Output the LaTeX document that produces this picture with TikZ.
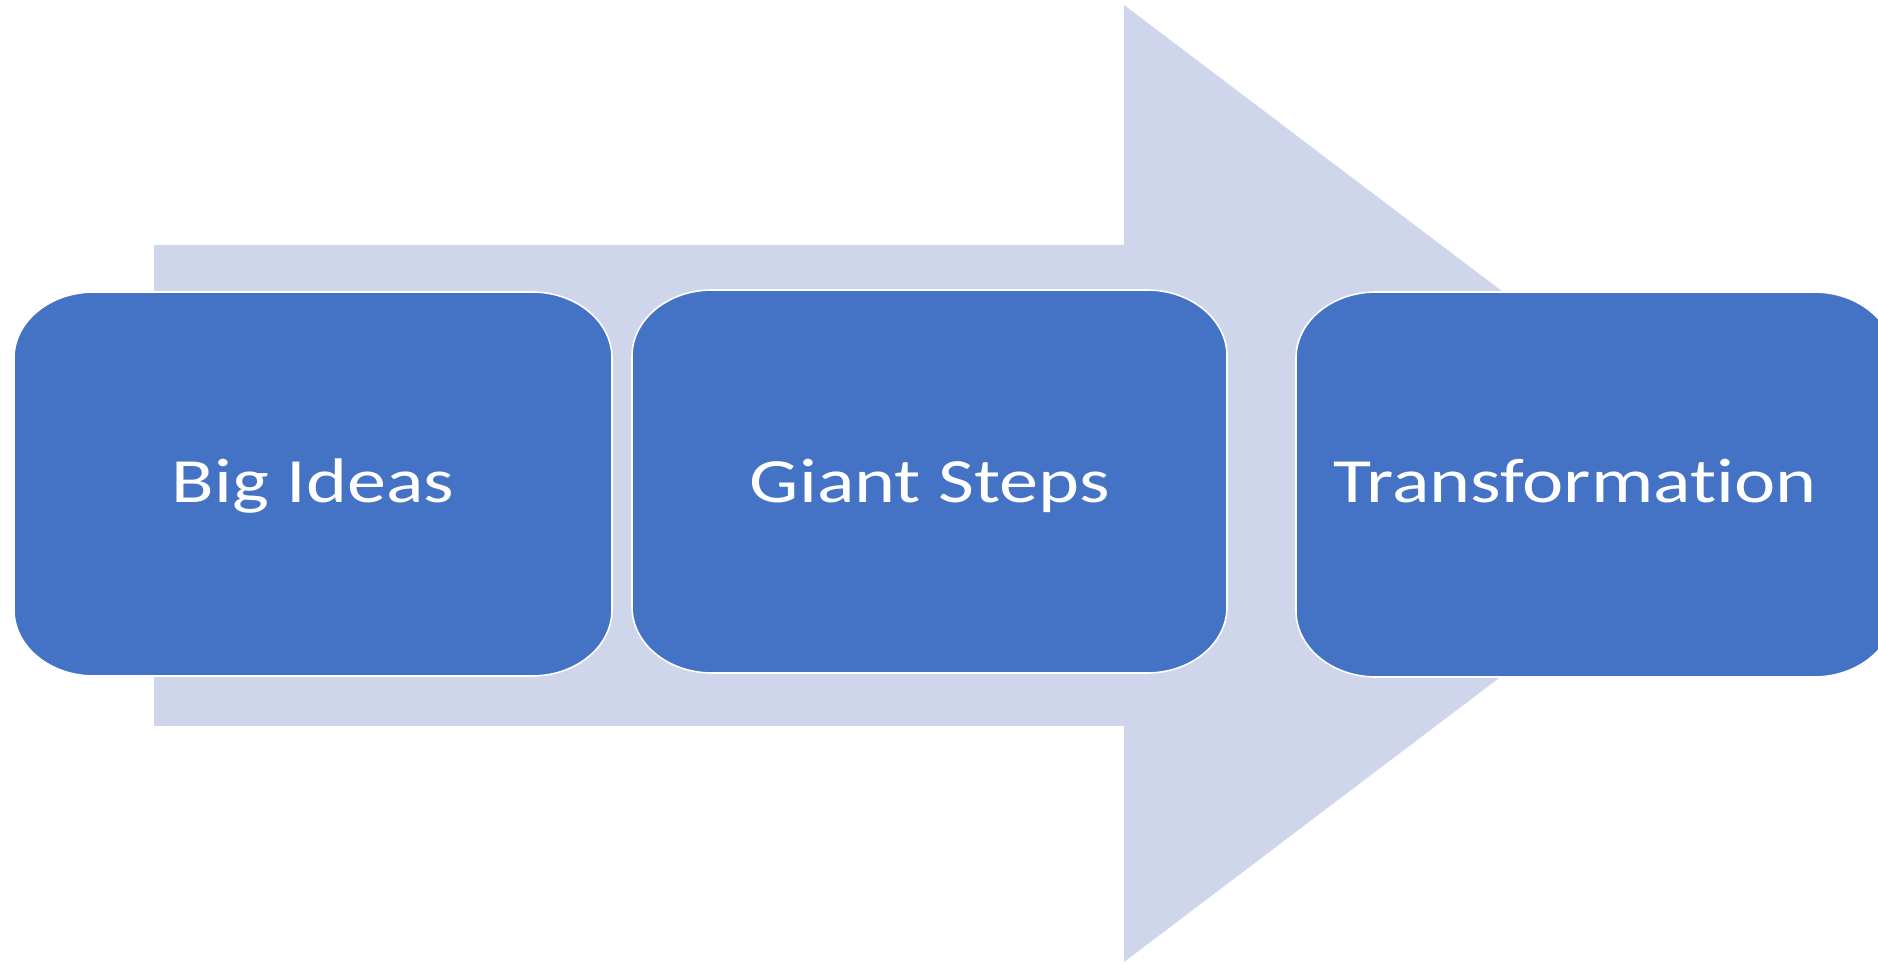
\documentclass[tikz,border=0pt]{standalone}
\usepackage{fontspec}
\setmainfont{Carlito}[Ligatures=NoCommon,FakeStretch=1.24]
\definecolor{boxblue}{HTML}{4472C4}
\definecolor{arrowgray}{HTML}{CFD5EA}
\newcommand{\roundbox}[4]{%
  \path[boxshape] (#1+80,#2) -- (#3-80,#2)
    arc[start angle=-90,end angle=0,x radius=80,y radius=66]
    -- (#3,#4-66)
    arc[start angle=0,end angle=90,x radius=80,y radius=66]
    -- (#1+80,#4)
    arc[start angle=90,end angle=180,x radius=80,y radius=66]
    -- (#1,#2+66)
    arc[start angle=180,end angle=270,x radius=80,y radius=66]
    -- cycle;}
\begin{document}
\begin{tikzpicture}[x=1pt,y=1pt,
  boxshape/.style={fill=boxblue,draw=white,line width=1.6pt},
  boxtext/.style={anchor=base,text=white,font=\fontsize{63}{75}\selectfont,inner sep=0pt}]
\useasboundingbox (0,0) rectangle (1878,964);
\fill[arrowgray] (154,719) -- (1124,719) -- (1124,959) -- (1756,480.5)
  -- (1124,2) -- (1124,238) -- (154,238) -- cycle;
\roundbox{14}{288}{612}{672}
\roundbox{632}{291}{1227}{674}
\roundbox{1296}{287}{1894}{672}
\node[boxtext] (big) at (313,461) {Big Ideas};
\node[boxtext] (giant) at (930,461) {Giant Steps};
\node[boxtext] (trans) at (1575,461) {Transformation};
\end{tikzpicture}
\end{document}
